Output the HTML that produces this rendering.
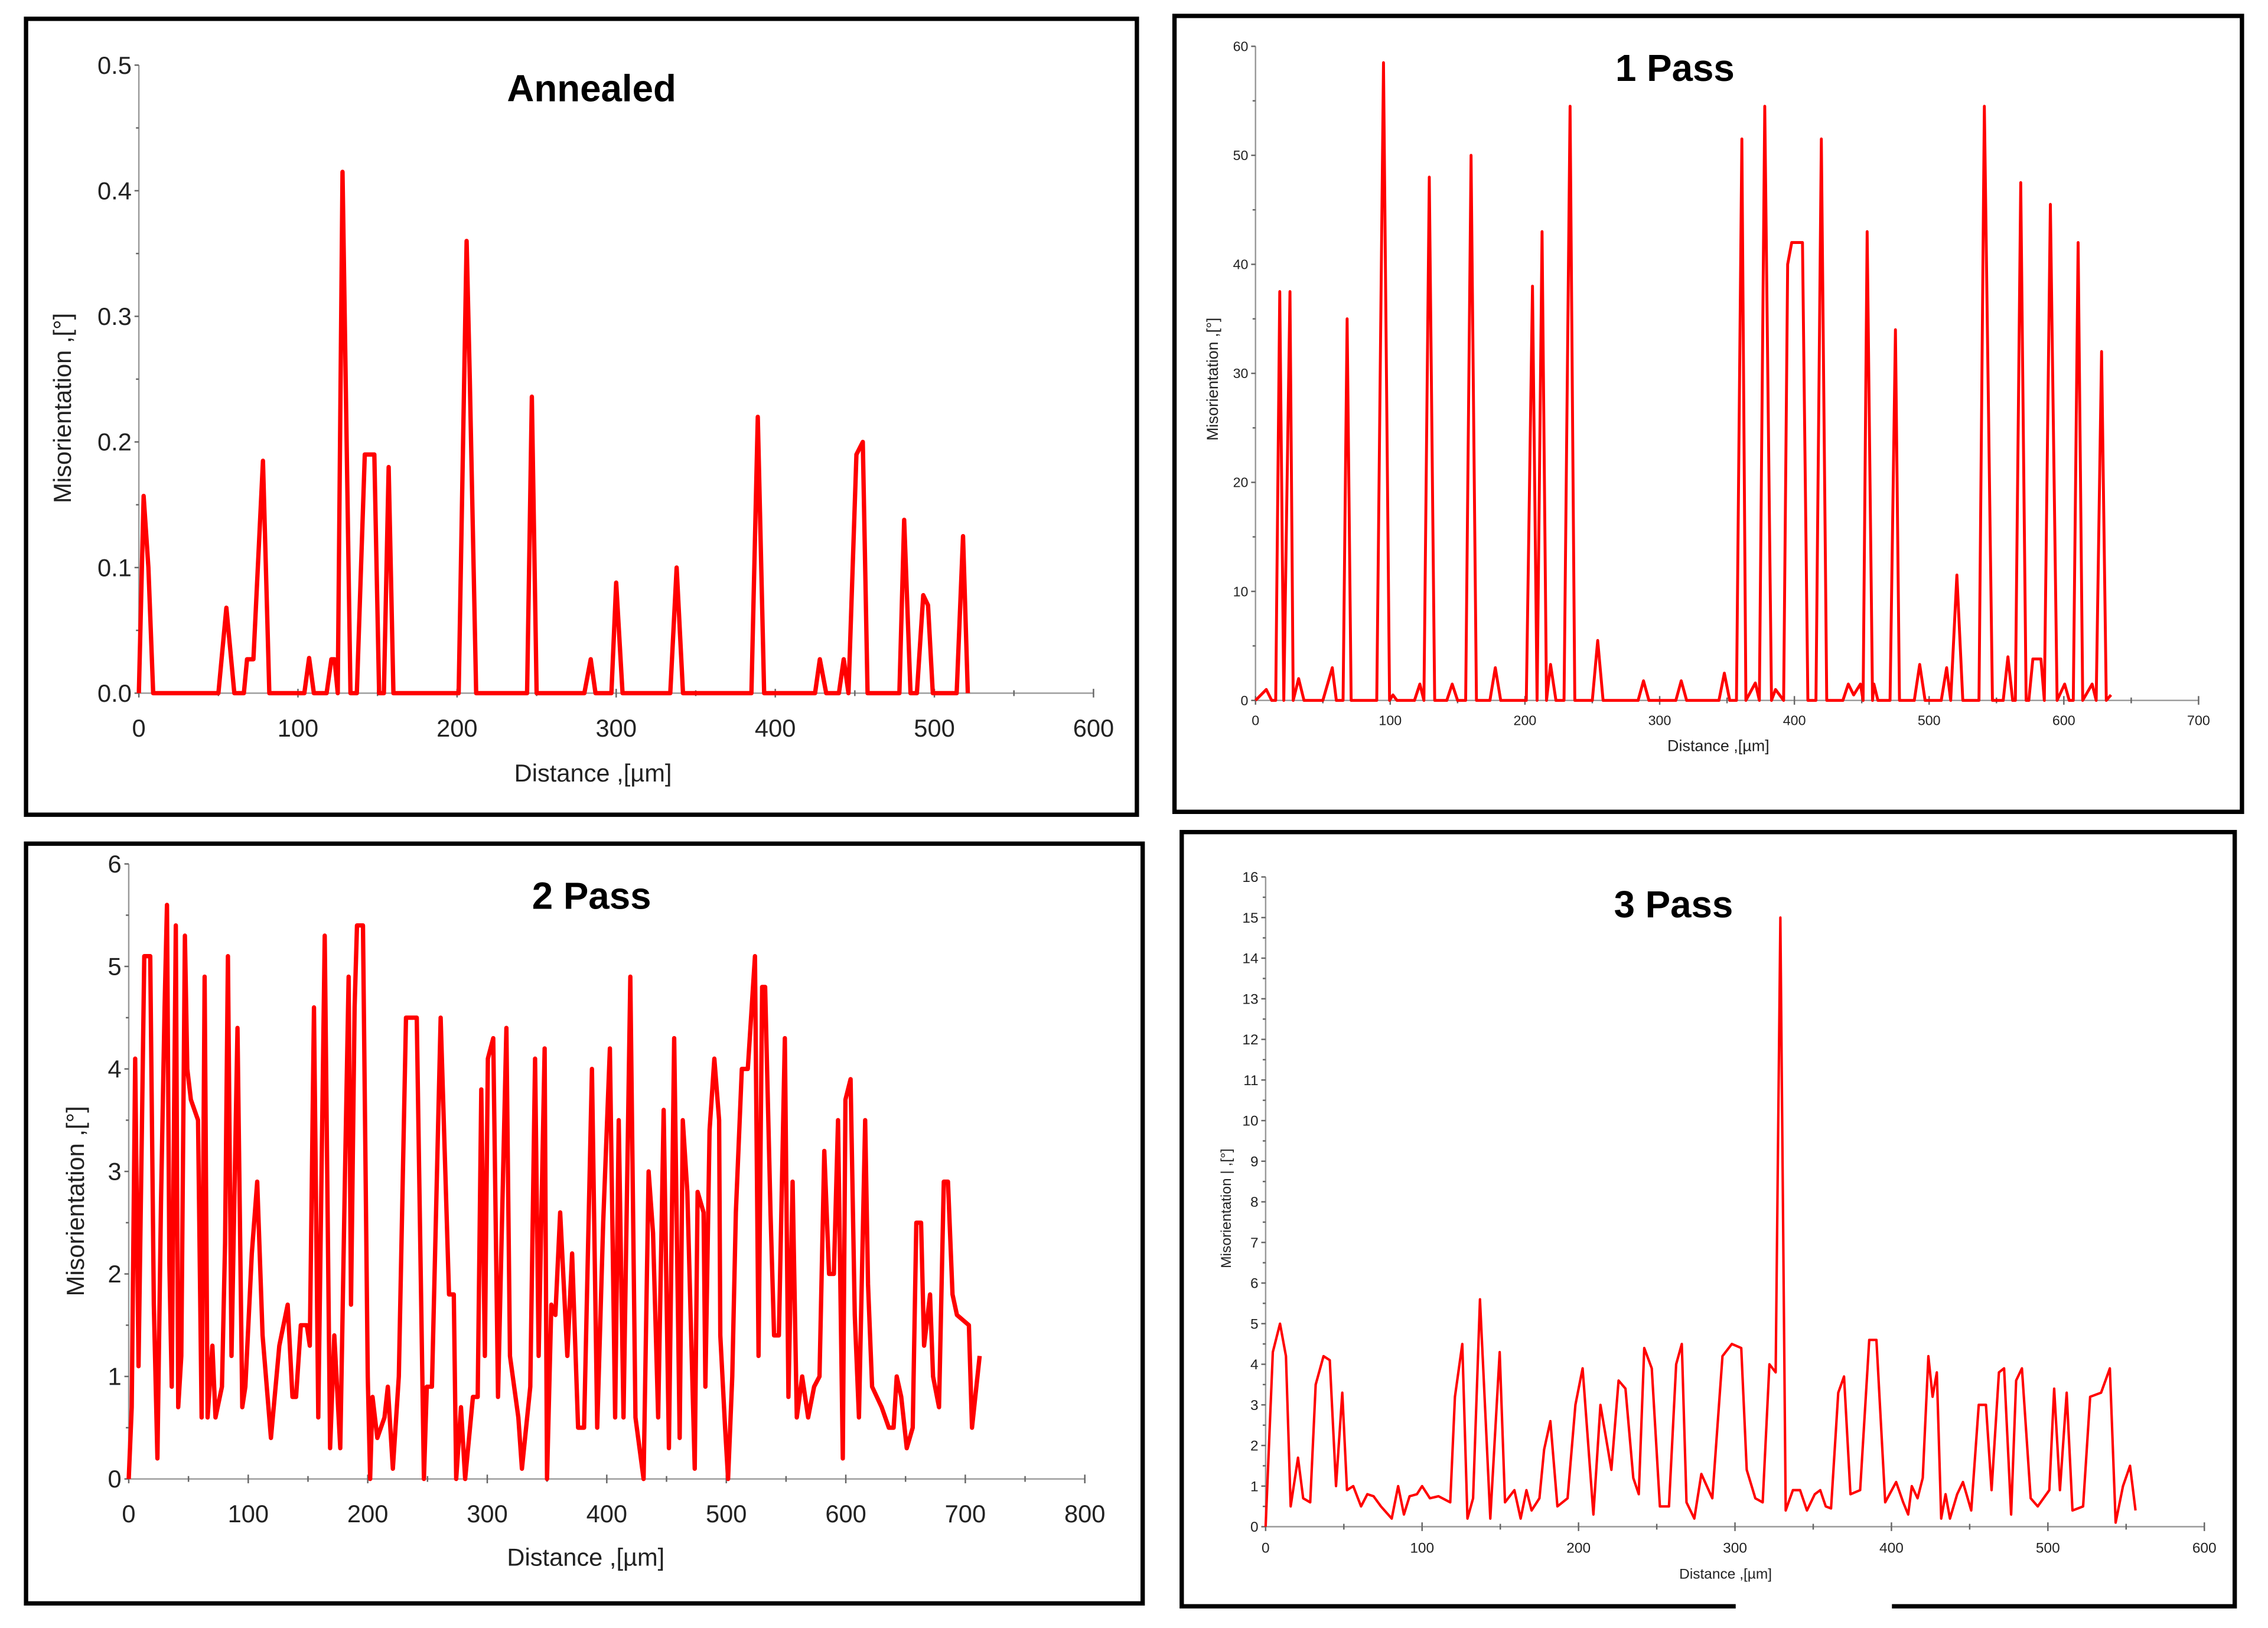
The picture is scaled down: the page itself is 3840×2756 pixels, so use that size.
<!DOCTYPE html>
<html><head><meta charset="utf-8"><style>
html,body{margin:0;padding:0;background:#fff;}
svg{display:block;}
text{font-family:"Liberation Sans",sans-serif;}
</style></head>
<body>
<svg id="fig" width="3840" height="2756" viewBox="0 0 1568 1125" preserveAspectRatio="none" xmlns="http://www.w3.org/2000/svg">
<rect x="0" y="0" width="1568" height="1125" fill="#fff"/>
<rect x="18" y="13" width="768" height="550" fill="none" stroke="#000" stroke-width="3"/>
<rect x="812" y="11" width="738" height="550" fill="none" stroke="#000" stroke-width="3"/>
<rect x="18" y="583" width="772" height="525" fill="none" stroke="#000" stroke-width="3"/>
<rect x="817" y="575" width="728" height="535" fill="none" stroke="#000" stroke-width="3"/>
<rect x="1200" y="1106" width="108" height="6" fill="#fff"/>
</svg>
<script>
const annealedPoints = [[0,0],[3,0.157],[6,0.1],[9,0],[50,0],[55,0.068],[60,0],[66,0],[68,0.027],[72,0.027],[78,0.185],[82,0],[104,0],[107,0.028],[110,0],[118,0],[121,0.027],[123,0.027],[125,0],[128,0.415],[133,0],[137,0],[142,0.19],[148,0.19],[151,0],[154,0],[157,0.18],[160,0],[201,0],[206,0.36],[208,0.25],[212,0],[244,0],[247,0.236],[250,0],[280,0],[284,0.027],[287,0],[297,0],[300,0.088],[304,0],[334,0],[338,0.1],[342,0],[385,0],[389,0.22],[393,0],[425,0],[428,0.027],[432,0],[440,0],[443,0.027],[446,0],[451,0.19],[455,0.2],[458,0],[478,0],[481,0.138],[485,0],[489,0],[493,0.078],[496,0.07],[499,0],[514,0],[518,0.125],[521,0]];
const onePassPoints = [[0,0],[8,1],[12,0],[15,0],[18,37.5],[21,0],[25.6,37.5],[28,0],[32,2],[36,0],[50,0],[57,3],[60,0],[65,0],[68,35],[71,0],[90,0],[95,58.5],[99.5,0],[102,0.5],[105,0],[118,0],[122,1.5],[125,0],[129,48],[133,0],[142,0],[146,1.5],[150,0],[156,0],[160,50],[164,0],[174,0],[178,3],[182,0],[201,0],[205.6,38],[209,0],[212.7,43],[216,0],[219,3.3],[223,0],[229,0],[233.5,54.5],[237,0],[250,0],[254,5.5],[258,0],[284,0],[288,1.8],[292,0],[312,0],[316,1.8],[320,0],[344,0],[348,2.5],[352,0],[357,0],[361,51.5],[364,0],[371,1.6],[374,0],[378,54.5],[383,0],[386,1],[392,0],[395,40],[398,42],[406,42],[410,0],[416,0],[420,51.5],[424,0],[436,0],[440,1.5],[444,0.5],[449,1.5],[451,0],[454,43],[458,0],[459,1.5],[462,0],[471,0],[475,34],[478,0],[489,0],[493,3.3],[497,0],[509,0],[513,3],[516,0],[520.6,11.5],[525,0],[537,0],[541,54.5],[547,0],[555,0],[558.5,4],[562,0],[564,0],[568,47.5],[572,0],[574,0],[577,3.8],[583,3.8],[585.5,0],[590,45.5],[595,0],[600.6,1.5],[604,0],[607,0],[610.6,42],[614,0],[621,1.5],[624,0],[628,32],[631.5,0],[635,0.5]];
const twoPassPoints = [[0,0],[2.5,0.7],[5.4,4.1],[8.2,1.1],[11,3.4],[13,5.1],[18,5.1],[21,1.7],[24,0.2],[27,2.7],[30,4.6],[32,5.6],[34,2.1],[36,0.9],[37.5,3],[39.4,5.4],[41.4,0.7],[44,1.2],[47,5.3],[49,4],[52,3.7],[58,3.5],[61,0.6],[63.5,4.9],[66,0.6],[70,1.3],[72.6,0.6],[78,0.9],[80.6,2.3],[83,5.1],[86,1.2],[91,4.4],[95,0.7],[97.6,0.9],[103,2.2],[107.5,2.9],[112,1.4],[119,0.4],[126,1.3],[133,1.7],[137,0.8],[140,0.8],[144,1.5],[149,1.5],[151.5,1.3],[155,4.6],[158.6,0.6],[164,5.3],[168.5,0.3],[172,1.4],[177,0.3],[181,3],[184,4.9],[186,1.7],[189,4.6],[191,5.4],[196,5.4],[200,1],[202,0],[204,0.8],[208,0.4],[214,0.6],[216.8,0.9],[221,0.1],[226,1],[232,4.5],[241,4.5],[247,0],[249.4,0.9],[253.7,0.9],[261,4.5],[268,1.8],[272,1.8],[274,0],[278,0.7],[281.5,0],[288,0.8],[292,0.8],[295,3.8],[298,1.2],[300.5,4.1],[305,4.3],[309,0.8],[316,4.4],[319,1.2],[326,0.6],[329,0.1],[336,0.9],[340,4.1],[343,1.2],[348,4.2],[350,0],[353.6,1.7],[357,1.6],[361,2.6],[367,1.2],[371,2.2],[376,0.5],[381,0.5],[387.6,4],[392,0.5],[397,2.5],[402.6,4.2],[407,0.6],[410,3.5],[414,0.6],[419.7,4.9],[424,0.6],[430.8,0],[435,3],[438.7,2.4],[443,0.6],[447.6,3.6],[452,0.3],[456.4,4.3],[461,0.4],[463.6,3.5],[467.4,2.8],[473.6,0.1],[476,2.8],[481,2.6],[482.5,0.9],[486,3.4],[490,4.1],[494,3.5],[495,1.4],[499,0.5],[501.5,0],[505,1],[508,2.6],[513,4],[518,4],[524,5.1],[527,1.2],[530,4.8],[532.5,4.8],[537,2.6],[540,1.4],[544,1.4],[549,4.3],[552,0.8],[555.5,2.9],[559,0.6],[563.5,1],[568.5,0.6],[573.5,0.9],[578,1],[582,3.2],[586,2],[590,2],[593.5,3.5],[597.5,0.2],[599.7,3.7],[604,3.9],[607.5,1.6],[611,0.6],[616.2,3.5],[618.6,1.9],[622,0.9],[630,0.7],[636,0.5],[640,0.5],[642.6,1],[646.4,0.8],[651,0.3],[656,0.5],[659,2.5],[663,2.5],[665.5,1.3],[670.5,1.8],[673,1],[678,0.7],[682,2.9],[685.5,2.9],[689.3,1.8],[693,1.6],[703,1.5],[705.6,0.5],[712,1.2]];
const threePassPoints = [[0,0],[4.6,4.3],[9.2,5],[13,4.2],[16,0.5],[20.7,1.7],[24,0.7],[28.5,0.6],[32,3.5],[37,4.2],[41,4.1],[45,1],[49,3.3],[52,0.9],[56,1],[61,0.5],[65,0.8],[69,0.75],[73.7,0.5],[80.6,0.2],[84.7,1],[88.4,0.3],[92,0.75],[96.7,0.8],[100,1],[105,0.7],[110.5,0.75],[118,0.6],[121,3.2],[125.7,4.5],[129,0.2],[132.6,0.7],[137,5.6],[143.6,0.2],[149.6,4.3],[153,0.6],[159,0.9],[163,0.2],[166.7,0.9],[170,0.4],[175,0.7],[178,1.9],[182,2.6],[186.5,0.5],[193,0.7],[198,3],[202.6,3.9],[209.5,0.3],[214,3],[221,1.4],[225.6,3.6],[230,3.4],[235,1.2],[238.5,0.8],[242,4.4],[246.8,3.9],[252,0.5],[257.8,0.5],[262.4,4],[266,4.5],[269,0.6],[274,0.2],[278.5,1.3],[285.5,0.7],[292,4.2],[298,4.5],[304,4.4],[307.5,1.4],[313,0.7],[317.7,0.6],[322,4],[326,3.8],[329,15],[332.4,0.4],[337,0.9],[341.6,0.9],[346,0.4],[351,0.8],[354.5,0.9],[358,0.5],[361.4,0.45],[366,3.3],[369.7,3.7],[373.8,0.8],[380,0.9],[385.8,4.6],[390.4,4.6],[396,0.6],[403,1.1],[407.5,0.6],[410.7,0.3],[413,1],[416.7,0.7],[420,1.2],[423.6,4.2],[426.3,3.2],[429,3.8],[431.8,0.2],[434.6,0.8],[437.4,0.2],[442,0.8],[445.7,1.1],[451,0.4],[455.8,3],[460.4,3],[464,0.9],[468.7,3.8],[472,3.9],[476.5,0.3],[479.7,3.6],[483.4,3.9],[489,0.7],[493.5,0.5],[500.9,0.9],[504,3.4],[507.7,0.9],[512,3.3],[515.7,0.4],[522.5,0.5],[527,3.2],[534,3.3],[539.6,3.9],[543.3,0.1],[548,1],[552.5,1.5],[556,0.4]];

const annealedYTicks = ["0.0","0.1","0.2","0.3","0.4","0.5"];
const annealedXTicks = ["0","100","200","300","400","500","600"];
const onePassYTicks = ["0","10","20","30","40","50","60"];
const onePassXTicks = ["0","100","200","300","400","500","600","700"];
const twoPassYTicks = ["0","1","2","3","4","5","6"];
const twoPassXTicks = ["0","100","200","300","400","500","600","700","800"];
const threePassYTicks = ["0","1","2","3","4","5","6","7","8","9","10","11","12","13","14","15","16"];
const threePassXTicks = ["0","100","200","300","400","500","600"];

const NS = "http://www.w3.org/2000/svg";
const svg = document.getElementById("fig");
function mk(tag, attrs, parent){
  const e = document.createElementNS(NS, tag);
  for (const k in attrs) e.setAttribute(k, attrs[k]);
  (parent||svg).appendChild(e);
  return e;
}
function drawChart(c){
  const g = mk("g", {});
  
  
  const xmax = +c.xTicks[c.xTicks.length-1], ymax = +c.yTicks[c.yTicks.length-1];
  const sx = v => c.x0 + (c.x1 - c.x0) * v / xmax;
  const sy = v => c.y0 - (c.y0 - c.y1) * v / ymax;
  const xa = mk("line", {x1:c.x0, y1:c.y0, x2:c.x1, y2:c.y0, stroke:"#999", "stroke-width":1}, g);
  
  
  const ya = mk("line", {x1:c.x0, y1:c.y0, x2:c.x0, y2:c.y1, stroke:"#999", "stroke-width":1}, g);
  
  
  // y ticks
  for (let i = 0; i < c.yTicks.length; i++){
    const v = +c.yTicks[i], y = sy(v);
    mk("line", {x1:c.x0-3, y1:y, x2:c.x0, y2:y, stroke:"#666", "stroke-width":1}, g);
    if (i < c.yTicks.length-1){
      const ym = sy(v + (+c.yTicks[1]-+c.yTicks[0])/2);
      mk("line", {x1:c.x0-2, y1:ym, x2:c.x0, y2:ym, stroke:"#666", "stroke-width":1}, g);
    }
    const t = mk("text", {x:c.x0-5, y:y + c.tf*0.35, "text-anchor":"end", "font-size":c.tf, fill:"#222"}, g);
    t.textContent = c.yTicks[i];
    
    
  }
  for (let i = 0; i < c.xTicks.length; i++){
    const v = +c.xTicks[i], x = sx(v);
    mk("line", {x1:x, y1:c.y0-3, x2:x, y2:c.y0+3, stroke:"#666", "stroke-width":1}, g);
    if (i < c.xTicks.length-1){
      const xm = sx(v + 50);
      mk("line", {x1:xm, y1:c.y0-2, x2:xm, y2:c.y0+2, stroke:"#666", "stroke-width":1}, g);
    }
    const t = mk("text", {x:x, y:c.xl, "text-anchor":"middle", "font-size":c.tf, fill:"#222"}, g);
    t.textContent = c.xTicks[i];
    
    
  }
  const d = c.pts.map((p,i) => (i ? "L" : "M") + sx(p[0]).toFixed(2) + "," + sy(p[1]).toFixed(2)).join("");
  const path = mk("path", {d:d, fill:"none", stroke:"#ff0000", "stroke-width":c.lw, "stroke-linejoin":"round"}, g);
  
  
  const title = mk("text", {x:c.title[0], y:c.title[1], "text-anchor":"middle", "font-size":26, "font-weight":"bold", fill:"#000"}, g);
  title.textContent = c.titleText;
  
  
  const yt = mk("text", {x:0, y:0, "text-anchor":"middle", "font-size":c.af, fill:"#222", transform:"translate(" + c.yt[0] + "," + c.yt[1] + ") rotate(-90)"}, g);
  yt.textContent = c.yTitle;
  
  
  const xt = mk("text", {x:c.xt[0], y:c.xt[1], "text-anchor":"middle", "font-size":c.af, fill:"#222"}, g);
  xt.textContent = "Distance ,[\u00b5m]";
  
  
}
drawChart({name:"annealed", pts:annealedPoints, xTicks:annealedXTicks, yTicks:annealedYTicks,
  x0:96, x1:756, y0:479, y1:45, tf:17, xl:509, lw:3, title:[409,70], titleText:"Annealed",
  yt:[49,282], xt:[410,540], af:17, yTitle:"Misorientation ,[\u00b0]"});
drawChart({name:"one-pass", pts:onePassPoints, xTicks:onePassXTicks, yTicks:onePassYTicks,
  x0:868, x1:1520, y0:484, y1:32, tf:9.5, xl:501, lw:2, title:[1158,56], titleText:"1 Pass",
  yt:[842,262], xt:[1188,519], af:11, yTitle:"Misorientation ,[\u00b0]"});
drawChart({name:"two-pass", pts:twoPassPoints, xTicks:twoPassXTicks, yTicks:twoPassYTicks,
  x0:89, x1:750, y0:1022, y1:597, tf:17, xl:1052, lw:3, title:[409,628], titleText:"2 Pass",
  yt:[58,830], xt:[405,1082], af:17, yTitle:"Misorientation ,[\u00b0]"});
drawChart({name:"three-pass", pts:threePassPoints, xTicks:threePassXTicks, yTicks:threePassYTicks,
  x0:875, x1:1524, y0:1055, y1:606, tf:10, xl:1073, lw:1.7, title:[1157,634], titleText:"3 Pass",
  yt:[851,835], xt:[1193,1091], af:10, yTitle:"Misorientation | ,[\u00b0]"});
</script>
</body></html>
